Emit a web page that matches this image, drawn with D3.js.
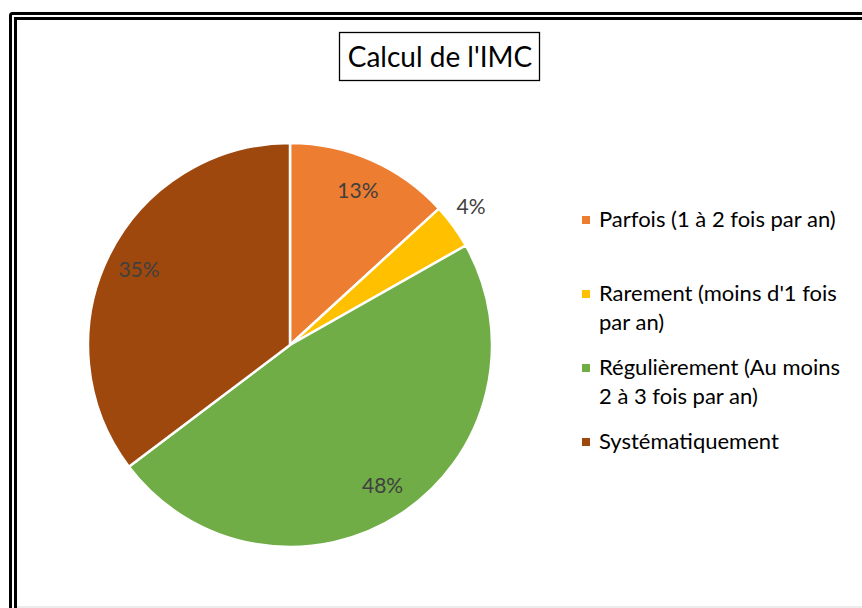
<!DOCTYPE html>
<html><head><meta charset="utf-8">
<script src="https://cdn.jsdelivr.net/npm/d3@7"></script>
<style>html,body{margin:0;padding:0;background:#fff;}svg{display:block;}</style>
</head><body>
<script>
const categories = ["Parfois (1 à 2 fois par an)", "Rarement (moins d'1 fois par an)", "Régulièrement (Au moins 2 à 3 fois par an)", "Systématiquement"];
const values = [13.2, 3.6, 47.9, 35.3];
const colors = ["#ED7D31", "#FFC000", "#70AD47", "#9E480E"];
const title = "Calcul de l'IMC";

const W = 862, H = 608;
const FONT = "Lato, 'Open Sans', sans-serif";
const svg = d3.select("body").append("svg").attr("width", W).attr("height", H);

// frame (double border)
svg.append("rect").attr("x", 10.5).attr("y", 13.5).attr("width", 900).attr("height", 700)
  .attr("fill", "none").attr("stroke", "#000").attr("stroke-width", 3).attr("rx", 2);
svg.append("rect").attr("x", 15.5).attr("y", 18.5).attr("width", 900).attr("height", 700)
  .attr("fill", "none").attr("stroke", "#000").attr("stroke-width", 3);
svg.append("line").attr("x1", 17).attr("x2", W).attr("y1", 607).attr("y2", 607)
  .attr("stroke", "#d9d9d9").attr("stroke-width", 1);

// title
svg.append("rect").attr("x", 339.5).attr("y", 32.5).attr("width", 200).attr("height", 48)
  .attr("fill", "#fff").attr("stroke", "#000").attr("stroke-width", 1.3);
svg.append("text").attr("x", 440).attr("y", 67).attr("text-anchor", "middle")
  .attr("font-family", FONT).attr("font-size", 28).attr("fill", "#000").text(title);

// pie
const cx = 290, cy = 345, R = 202;
const total = d3.sum(values);
const pie = d3.pie().sort(null).value(d => d)(values);
const arc = d3.arc().innerRadius(0).outerRadius(R);
const g = svg.append("g").attr("transform", `translate(${cx},${cy})`);
g.selectAll("path").data(pie).join("path")
  .attr("d", arc).attr("fill", (d, i) => colors[i])
  .attr("stroke", "#fff").attr("stroke-width", 2.5).attr("stroke-linejoin", "round");

const fmt = d3.format(".0f");
g.selectAll("text.lbl").data(pie).join("text").attr("class", "lbl")
  .attr("transform", d => {
    const a = (d.startAngle + d.endAngle) / 2;
    const small = (d.endAngle - d.startAngle) < 0.4;
    const r = small ? R + 26 : R * 0.835;
    const aa = small ? a - 0.025 : a;
    return `translate(${r * Math.sin(aa)},${-r * Math.cos(aa)})`;
  })
  .attr("text-anchor", "middle").attr("dy", "0.35em")
  .attr("font-family", FONT).attr("font-size", 21).attr("fill", "#404040")
  .text(d => fmt(d.data / total * 100) + "%");

// legend
const lx = 582, ly0 = 220, lstep = 74, lineH = 29.5, maxW = 252;
const leg = svg.append("g");
categories.forEach((c, i) => {
  const y = ly0 + i * lstep;
  leg.append("rect").attr("x", lx).attr("y", y - 4).attr("width", 8).attr("height", 8).attr("fill", colors[i]);
  const t = leg.append("text").attr("x", lx + 17).attr("y", y + 6.5)
    .attr("font-family", FONT).attr("font-size", 22).attr("fill", "#000");
  const words = c.split(" ");
  let line = [];
  let ts = t.append("tspan").attr("x", lx + 17);
  words.forEach(w => {
    line.push(w);
    ts.text(line.join(" "));
    if (ts.node().getComputedTextLength() > maxW && line.length > 1) {
      line.pop();
      ts.text(line.join(" "));
      line = [w];
      ts = t.append("tspan").attr("x", lx + 17).attr("dy", lineH).text(w);
    }
  });
});
</script>
</body></html>
